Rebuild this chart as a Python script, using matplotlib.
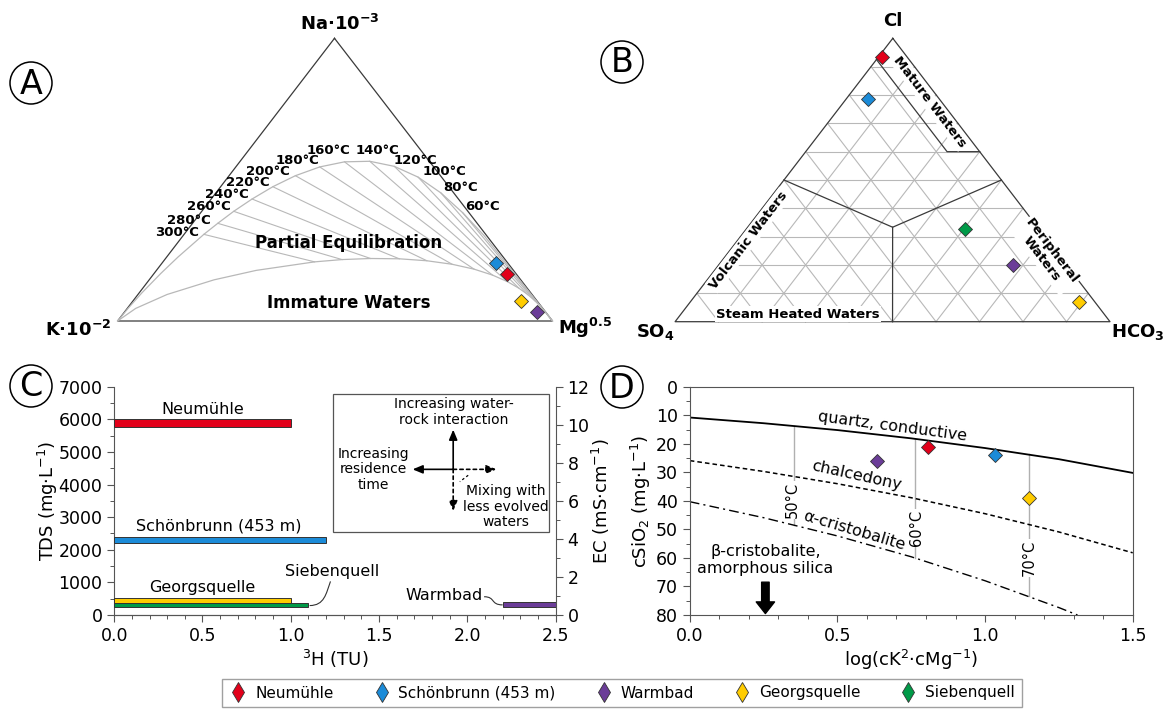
import matplotlib
matplotlib.use("Agg")
import matplotlib.pyplot as plt
import numpy as np
from matplotlib.patches import Circle, PathPatch
from matplotlib.path import Path
from matplotlib.lines import Line2D
from matplotlib.ticker import MultipleLocator

plt.rcParams["font.family"] = ["DejaVu Sans"]
plt.rcParams["mathtext.default"] = "regular"

W, H = 1169, 710

samples = ["Neumühle", "Schönbrunn (453 m)", "Warmbad", "Georgsquelle", "Siebenquell"]
colors = ["#e2001a", "#1b8bd8", "#6b3d98", "#ffcc00", "#009a48"]

# --- A: Na/1000 - K/100 - Mg^0.5 (fractions Na, K; Mg = rest)
eq_temps = [40, 60, 80, 100, 120, 140, 160, 180, 200, 220, 240, 260, 280, 300, 350, 400, 500, 700]
full_na = [0.305, 0.383, 0.453, 0.509, 0.547, 0.565, 0.563, 0.545, 0.514, 0.475, 0.4315, 0.388,
           0.3455, 0.3065, 0.226, 0.1685, 0.0998, 0.0454]
full_k = [0.006, 0.0145, 0.0295, 0.054, 0.0895, 0.137, 0.196, 0.262, 0.3335, 0.405, 0.4745, 0.5385,
          0.5965, 0.648, 0.748, 0.816, 0.894, 0.9528]
imm_na = [0.0379, 0.0533, 0.0718, 0.0928, 0.1157, 0.1393, 0.1623, 0.1834, 0.2007, 0.2131, 0.2200,
          0.2211, 0.2173, 0.2092, 0.1790, 0.1456, 0.0937, 0.0446]
imm_k = [0.0008, 0.0020, 0.0047, 0.0098, 0.0189, 0.0339, 0.0564, 0.0883, 0.1302, 0.1820, 0.2419,
         0.3074, 0.3750, 0.4421, 0.5917, 0.7053, 0.8394, 0.9360]
a_na = [0.166, 0.206, 0.031, 0.072, None]
a_k = [0.022, 0.027, 0.020, 0.036, None]

# --- B: Cl - SO4 - HCO3
b_cl = [0.933, 0.785, 0.199, 0.0706, 0.328]
b_so4 = [0.058, 0.164, 0.1235, 0.037, 0.169]

# --- C: 3H vs TDS ranges
c_tu_lo = [0.0, 0.0, 2.2, 0.0, 0.0]
c_tu_hi = [1.0, 1.2, 2.5, 1.0, 1.1]
c_tds_lo = [5760, 2200, 250, 360, 240]
c_tds_hi = [6020, 2400, 390, 530, 360]

# --- D: silica vs log(K2/Mg)
d_logk = [0.807, 1.032, 0.634, 1.149, None]
d_sio2 = [21.1, 24.1, 26.0, 39.0, None]
curve_x = [0, 0.25, 0.5, 0.75, 1.0, 1.25, 1.5]
quartz = [10.8, 12.8, 15.2, 18.1, 21.5, 25.4, 30.2]
chalcedony = [25.9, 29.7, 34.0, 38.9, 44.5, 50.9, 58.2]
crist_x = [0, 0.25, 0.5, 0.75, 1.0, 1.25, 1.313]
cristobalite = [40.3, 45.9, 52.3, 59.6, 68.0, 77.4, 80.0]
iso_t = [50, 60, 70]
iso_x = [0.353, 0.763, 1.149]
iso_top = [13.8, 18.2, 23.7]
iso_bot = [48.5, 60.0, 73.4]


def tern(top, left, verts):
    top = np.asarray(top, float)
    left = np.asarray(left, float)
    right = 1 - top - left
    v = np.array(verts)
    x = top * v[0, 0] + left * v[1, 0] + right * v[2, 0]
    y = top * v[0, 1] + left * v[1, 1] + right * v[2, 1]
    return x, y


fig = plt.figure(figsize=(W / 100, H / 100), dpi=100)
ov = fig.add_axes([0, 0, 1, 1])
ov.set_xlim(0, W)
ov.set_ylim(H, 0)
ov.axis("off")

edge = "#3a3a3a"
grid = "#b8b8b8"
mk = dict(marker="D", ms=7.5, mec="#333333", mew=0.6, ls="none", zorder=6)


def panel_circle(x, y, letter):
    ov.add_patch(Circle((x, y), 21, fill=False, ec="black", lw=1.1))
    ov.text(x, y + 1, letter, ha="center", va="center", fontsize=24)


# ---------------- A
A = [(334.5, 38.3), (117.6, 321.0), (552.5, 321.0)]
tri = np.array(A + [A[0]])
ov.plot(tri[:, 0], tri[:, 1], color=edge, lw=0.9)
fx, fy = tern([0] + full_na + [0], [0] + full_k + [1], A)
ov.plot(fx, fy, color=grid, lw=0.9)
ix, iy = tern([0] + imm_na + [0], [0] + imm_k + [1], A)
ov.plot(ix, iy, color=grid, lw=0.9)
for i, t in enumerate(eq_temps):
    if 60 <= t <= 300:
        ov.plot([fx[i + 1], ix[i + 1]], [fy[i + 1], iy[i + 1]], color=grid, lw=0.8)

t_labels = {160: (328.7, 150.7), 140: (377.4, 150.7), 120: (415.7, 161), 180: (297.7, 161),
            100: (444.4, 171.7), 200: (267.4, 171.7), 80: (460.9, 187.3), 220: (248.3, 182.7),
            240: (227.2, 194), 60: (482, 206), 260: (208.8, 206.7), 280: (188.9, 220),
            300: (177, 232.7)}
for t, (x, y) in t_labels.items():
    ov.text(x, y, f"{t}°C", ha="center", va="center", fontsize=9.5, fontweight="bold")
ov.text(348.7, 243.3, "Partial Equilibration", ha="center", va="center", fontsize=12, fontweight="bold")
ov.text(348.7, 302.7, "Immature Waters", ha="center", va="center", fontsize=12, fontweight="bold")
ov.text(340, 24, "Na·10$^{-3}$", ha="center", va="center", fontsize=13, fontweight="bold")
ov.text(111, 330, "K·10$^{-2}$", ha="right", va="center", fontsize=13, fontweight="bold")
ov.text(558, 328, "Mg$^{0.5}$", ha="left", va="center", fontsize=13, fontweight="bold")
for na, k, c in zip(a_na, a_k, colors):
    if na is None:
        continue
    x, y = tern(na, k, A)
    ov.plot(x, y, mfc=c, **mk)
panel_circle(31, 83, "A")

# ---------------- B
B = [(892.8, 38.3), (675.1, 321.7), (1110.0, 321.7)]
for i in range(1, 10):
    f = i / 10
    for p, q in [((f, 1 - f), (f, 0)), ((1 - f, f), (0, f)), ((1 - f, 0), (0, 1 - f))]:
        x, y = tern([p[0], q[0]], [p[1], q[1]], B)
        ov.plot(x, y, color=grid, lw=0.8)
tri = np.array(B + [B[0]])
ov.plot(tri[:, 0], tri[:, 1], color=edge, lw=0.9)
# field boundaries
x, y = tern([0.925, 0.6, 0.6], [0.075, 0.075, 0.0], B)
ov.plot(x, y, color=edge, lw=0.9)
x, y = tern([0.5, 1 / 3, 0.5], [0.5, 1 / 3, 0.0], B)
ov.plot(x, y, color=edge, lw=0.9)
x, y = tern([1 / 3, 0.0], [1 / 3, 0.5], B)
ov.plot(x, y, color=edge, lw=0.9)

wb = dict(facecolor="white", edgecolor="none", pad=1.0)
ov.text(929.6, 101.7, "Mature Waters", rotation=-52.5, ha="center", va="center",
        fontsize=9.5, fontweight="bold", bbox=wb, rotation_mode="anchor")
ov.text(748.4, 240, "Volcanic Waters", rotation=52.5, ha="center", va="center",
        fontsize=9.5, fontweight="bold", bbox=wb, rotation_mode="anchor")
ov.text(1046.2, 255, "Peripheral\nWaters", rotation=-52.5, ha="center", va="center",
        fontsize=9.5, fontweight="bold", bbox=wb, rotation_mode="anchor", linespacing=1.0)
ov.text(798, 314.3, "Steam Heated Waters", ha="center", va="center",
        fontsize=9.5, fontweight="bold", bbox=wb)
ov.text(892.8, 21, "Cl", ha="center", va="center", fontsize=13, fontweight="bold")
ov.text(655, 332, "SO$_4$", ha="center", va="center", fontsize=13, fontweight="bold")
ov.text(1138, 332, "HCO$_3$", ha="center", va="center", fontsize=13, fontweight="bold")
for cl, so4, c in zip(b_cl, b_so4, colors):
    x, y = tern(cl, so4, B)
    ov.plot(x, y, mfc=c, **mk)
panel_circle(622, 62, "B")

# ---------------- C
axC = fig.add_axes([114.2 / W, (H - 615) / H, 441.4 / W, 228.3 / H])
for lo, hi, tl, th, c in zip(c_tu_lo, c_tu_hi, c_tds_lo, c_tds_hi, colors):
    axC.barh((tl + th) / 2, hi - lo, left=lo, height=th - tl, color=c, edgecolor="#333333", lw=0.7, zorder=3)
axC.set_xlim(0, 2.5)
axC.set_ylim(0, 7000)
axC.xaxis.set_major_locator(MultipleLocator(0.5))
axC.xaxis.set_minor_locator(MultipleLocator(0.1))
axC.yaxis.set_major_locator(MultipleLocator(1000))
axC.yaxis.set_minor_locator(MultipleLocator(500))
axC.spines["top"].set_visible(False)
axC.spines["right"].set_visible(False)
axC.set_ylabel("TDS (mg·L$^{-1}$)", fontsize=13, labelpad=-1)
axC.set_xlabel("$^{3}$H (TU)", fontsize=13, labelpad=2)

axE = axC.twinx()
axE.set_ylim(0, 12)
axE.yaxis.set_major_locator(MultipleLocator(2))
axE.yaxis.set_minor_locator(MultipleLocator(1))
axE.spines["top"].set_visible(False)
axE.spines["left"].set_visible(False)
axE.set_ylabel("EC (mS·cm$^{-1}$)", fontsize=13, labelpad=0)

for ax in (axC, axE):
    for s in ax.spines.values():
        s.set_color("#555555")
    ax.tick_params(which="major", direction="out", length=5, width=0.8, color="#555555", labelsize=12.5)
    ax.tick_params(which="minor", direction="out", length=3, width=0.7, color="#555555")

axC.text(0.503, 6286, "Neumühle", ha="center", va="center", fontsize=11.5)
axC.text(0.593, 2738, "Schönbrunn (453 m)", ha="center", va="center", fontsize=11.5)
axC.text(0.497, 849, "Georgsquelle", ha="center", va="center", fontsize=11.5)
axC.text(1.237, 1328, "Siebenquell", ha="center", va="center", fontsize=11.5)
axC.text(2.09, 583, "Warmbad", ha="right", va="center", fontsize=11.5)
leaders = [[(1.107, 290), (1.19, 290), (1.20, 650), (1.225, 1030)],
           [(2.095, 560), (2.16, 560), (2.13, 310), (2.2, 310)]]
for pts in leaders:
    axC.add_patch(PathPatch(Path(pts, [Path.MOVETO, Path.CURVE4, Path.CURVE4, Path.CURVE4]),
                            fill=False, ec="#333333", lw=0.8, zorder=4))

# inset explanation box
axC.add_patch(plt.Rectangle((0.496, 0.365), 0.489, 0.603, transform=axC.transAxes,
                            fill=False, ec="#555555", lw=0.9, zorder=4))
cx, cy = 0.768, 0.638
arr = dict(arrowstyle="-|>,head_width=0.25,head_length=0.6", lw=1.2, color="black",
           shrinkA=0, shrinkB=0)
axC.annotate("", xy=(cx, 0.812), xytext=(cx, cy), xycoords="axes fraction", arrowprops=arr)
axC.annotate("", xy=(0.676, cy), xytext=(cx, cy), xycoords="axes fraction", arrowprops=arr)
arrd = dict(arr, linestyle=(0, (2, 2)))
axC.annotate("", xy=(0.866, cy), xytext=(cx, cy), xycoords="axes fraction", arrowprops=arrd)
axC.annotate("", xy=(cx, 0.455), xytext=(cx, cy), xycoords="axes fraction", arrowprops=arrd)
axC.plot([0.802, 0.783], [0.612, 0.584], transform=axC.transAxes, color="black", lw=0.9, ls=(0, (2, 2)))
axC.text(0.770, 0.890, "Increasing water-\nrock interaction", transform=axC.transAxes,
         ha="center", va="center", fontsize=10, linespacing=1.15)
axC.text(0.588, 0.638, "Increasing\nresidence\ntime", transform=axC.transAxes,
         ha="center", va="center", fontsize=10, linespacing=1.15)
axC.text(0.887, 0.474, "Mixing with\nless evolved\nwaters", transform=axC.transAxes,
         ha="center", va="center", fontsize=10, linespacing=1.15)

# ---------------- D
axD = fig.add_axes([689.8 / W, (H - 615) / H, 442.9 / W, 228.3 / H])
axD.plot(curve_x, quartz, color="black", lw=1.3)
axD.plot(curve_x, chalcedony, color="black", lw=1.1, ls=(0, (3, 2)))
axD.plot(crist_x, cristobalite, color="black", lw=1.0, ls=(0, (7, 3, 1.5, 3)))
for t, x, y0, y1 in zip(iso_t, iso_x, iso_top, iso_bot):
    axD.plot([x, x], [y0, y1], color="#b0b0b0", lw=1.0, zorder=1)
axD.text(0.348, 39.7, "50°C", rotation=90, ha="center", va="center", fontsize=10.5,
         bbox=dict(facecolor="white", edgecolor="none", pad=0.5))
axD.text(0.767, 49.6, "60°C", rotation=90, ha="center", va="center", fontsize=10.5,
         bbox=dict(facecolor="white", edgecolor="none", pad=0.5))
axD.text(1.149, 60.1, "70°C", rotation=90, ha="center", va="center", fontsize=10.5,
         bbox=dict(facecolor="white", edgecolor="none", pad=0.5))
axD.text(0.687, 13.9, "quartz, conductive", rotation=-7.5, ha="center", va="center", fontsize=11.5)
axD.text(0.564, 31.3, "chalcedony", rotation=-12.5, ha="center", va="center", fontsize=11.5)
axD.text(0.558, 50.3, "α-cristobalite", rotation=-16.5, ha="center", va="center", fontsize=11.5)
axD.text(0.256, 60.7, "β-cristobalite,\namorphous silica", ha="center", va="center", fontsize=11.5,
         linespacing=1.15)
axD.annotate("", xy=(0.256, 79.5), xytext=(0.256, 68.5),
             arrowprops=dict(arrowstyle="simple,head_width=1.1,head_length=0.7,tail_width=0.45",
                             color="black", mutation_scale=12, shrinkA=0, shrinkB=0))
for x, y, c in zip(d_logk, d_sio2, colors):
    if x is None:
        continue
    axD.plot(x, y, mfc=c, **mk)
axD.set_xlim(0, 1.5)
axD.set_ylim(80, 0)
axD.xaxis.set_major_locator(MultipleLocator(0.5))
axD.xaxis.set_minor_locator(MultipleLocator(0.1))
axD.yaxis.set_major_locator(MultipleLocator(10))
axD.yaxis.set_minor_locator(MultipleLocator(5))
for s in axD.spines.values():
    s.set_color("#555555")
axD.tick_params(which="major", direction="out", length=5, width=0.8, color="#555555", labelsize=12.5)
axD.tick_params(which="minor", direction="out", length=3, width=0.7, color="#555555")
axD.set_ylabel("cSiO$_2$ (mg·L$^{-1}$)", fontsize=13, labelpad=2)
axD.set_xlabel("log(cK$^2$·cMg$^{-1}$)", fontsize=13, labelpad=2)

panel_circle(31, 386, "C")
panel_circle(622, 387, "D")

# ---------------- legend
handles = [Line2D([], [], marker="d", ms=10, mfc=c, mec="#333333", mew=0.6, ls="none") for c in colors]
fig.legend(handles, samples, loc="center", bbox_to_anchor=(622 / W, 1 - 693 / H), ncol=5,
           frameon=True, fancybox=False, edgecolor="#888888", fontsize=11, columnspacing=2.55,
           handletextpad=0.5, borderpad=0.45, handlelength=1.2)

fig.savefig("out.png", dpi=100)
